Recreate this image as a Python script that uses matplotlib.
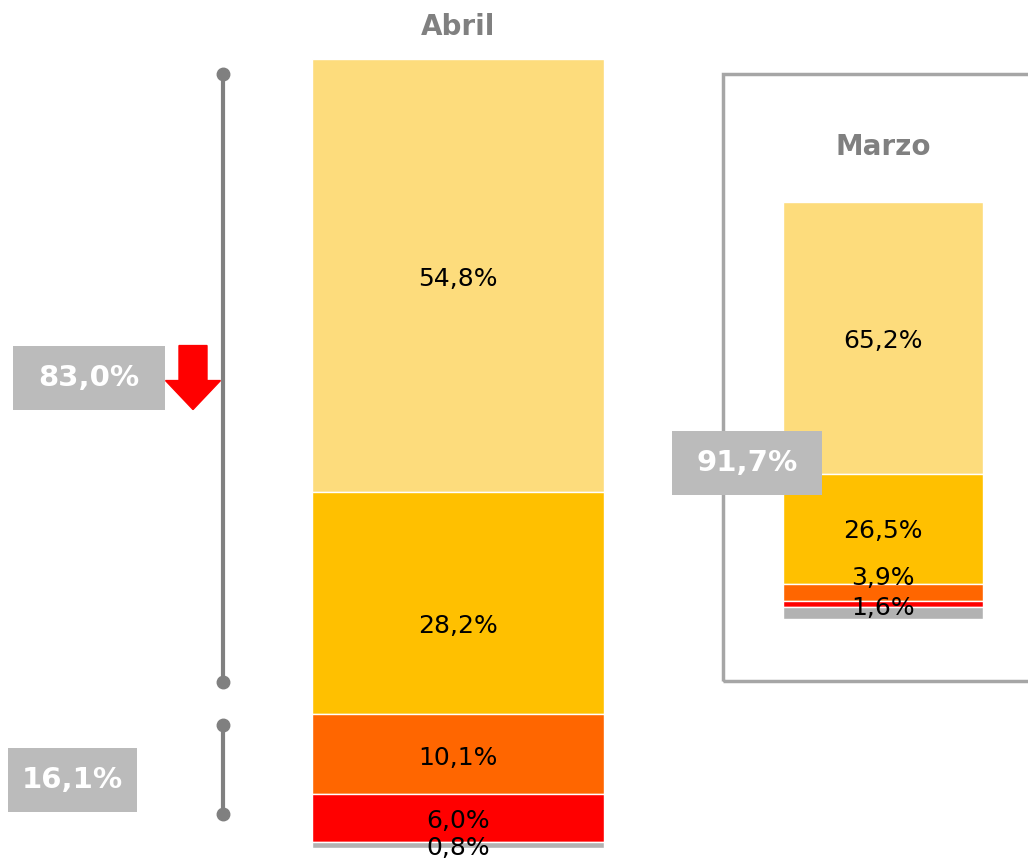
import matplotlib
matplotlib.use("Agg")
import matplotlib.pyplot as plt
from matplotlib.patches import Rectangle, FancyArrow
import matplotlib.transforms as mtransforms

# data
segments = ["Muy satisfecho", "Satisfecho", "Neutral", "Insatisfecho", "NS/NC"]
colors = ["#FDDC7C", "#FFC000", "#FF6600", "#FF0000", "#B2B2B2"]
abril = [54.8, 28.2, 10.1, 6.0, 0.8]
marzo = [65.2, 26.5, 3.9, 1.6, 2.8]
abril_labels = ["54,8%", "28,2%", "10,1%", "6,0%", "0,8%"]
marzo_labels = ["65,2%", "26,5%", "3,9%", "1,6%", ""]
top_total_abril = "83,0%"
low_total_abril = "16,1%"
top_total_marzo = "91,7%"

plt.rcParams['font.family'] = ['DejaVu Sans']
W, H = 1028, 861
fig = plt.figure(figsize=(W / 100, H / 100), dpi=100)


def px_axes(x0, y0, x1, y1):
    return fig.add_axes([x0 / W, 1 - y1 / H, (x1 - x0) / W, (y1 - y0) / H])


def stacked(ax, values, labels, offsets):
    bottom = sum(values)
    for v, c, lab, off in zip(values, colors, labels, offsets):
        bottom -= v
        ax.bar(0, v, bottom=bottom, width=1, color=c, edgecolor="white", linewidth=1)
        if lab:
            ax.text(0, bottom + v / 2 + off, lab, ha="center", va="center",
                    fontsize=18, color="black")
    ax.set_xlim(-0.5, 0.5)
    ax.set_ylim(0, 100)
    ax.axis("off")


# Marzo panel frame (behind everything)
frame = Rectangle((723 / W, 1 - 681 / H), 320 / W, (681 - 74) / H,
                  transform=fig.transFigure, facecolor="none",
                  edgecolor="#A6A6A6", linewidth=2.5, zorder=-1)
fig.add_artist(frame)

# Abril bar (790 px tall -> 7.9 px per %)
ax1 = px_axes(312, 58, 604, 848)
stacked(ax1, abril, abril_labels, [-0.5, -2.9, -0.4, -0.4, -0.4])
ax1.text(0.5, 1.0 + 31 / 790, "Abril", transform=ax1.transAxes, ha="center",
         va="center", fontsize=20, fontweight="bold", color="#808080")

tr = mtransforms.blended_transform_factory(fig.transFigure, ax1.transData)
ppu = 7.9

# brackets: (low, high, label, inset low, inset high, box x0, box x1, box shift)
groups = [(abril[2] + abril[3] + abril[4], 100, top_total_abril, 4.1, 2.0, 13, 165, 1.1),
          (abril[4], abril[4] + abril[2] + abril[3], low_total_abril, 3.5, 1.3, 8, 137, -0.3)]
xb = 223 / W
for lo, hi, lab, ilo, ihi, x0, x1, sh in groups:
    line = plt.Line2D([xb, xb], [lo + ilo, hi - ihi], transform=tr, color="#808080",
                      lw=3, marker="o", markersize=9, clip_on=False)
    fig.add_artist(line)
    yc = (lo + hi) / 2 + sh
    ax1.add_patch(Rectangle((x0 / W, yc - 32 / ppu), (x1 - x0) / W, 64 / ppu,
                            transform=tr, facecolor="#BBBBBB", edgecolor="none",
                            clip_on=False))
    ax1.text((x0 + x1) / 2 / W, yc, lab, transform=tr, ha="center", va="center",
             fontsize=21, fontweight="bold", color="white", clip_on=False)

# red down arrow next to the 83,0% box
yc = (groups[0][0] + groups[0][1]) / 2 + groups[0][7]
arrow = FancyArrow(193 / W, yc + 32 / ppu, 0, -64 / ppu, width=28 / W,
                   head_width=55 / W, head_length=29 / ppu, length_includes_head=True,
                   transform=tr, color="#FF0000", clip_on=False)
ax1.add_patch(arrow)

# Marzo bar (417 px tall -> 4.17 px per %)
ax2 = px_axes(783, 202, 983, 619)
stacked(ax2, marzo, marzo_labels, [-0.7, -0.5, 3.6, -1.0, 0])
ax2.text(0.5, 1.0 + 55 / 417, "Marzo", transform=ax2.transAxes, ha="center",
         va="center", fontsize=20, fontweight="bold", color="#808080")

tr2 = mtransforms.blended_transform_factory(fig.transFigure, ax2.transData)
yc2 = 37.4
ax2.add_patch(Rectangle((672 / W, yc2 - 32 / 4.17), 150 / W, 64 / 4.17,
                        transform=tr2, facecolor="#BBBBBB", edgecolor="none",
                        clip_on=False, zorder=5))
ax2.text(747 / W, yc2, top_total_marzo, transform=tr2, ha="center",
         va="center", fontsize=21, fontweight="bold", color="white",
         clip_on=False, zorder=6)

fig.savefig("out.png", dpi=100)
